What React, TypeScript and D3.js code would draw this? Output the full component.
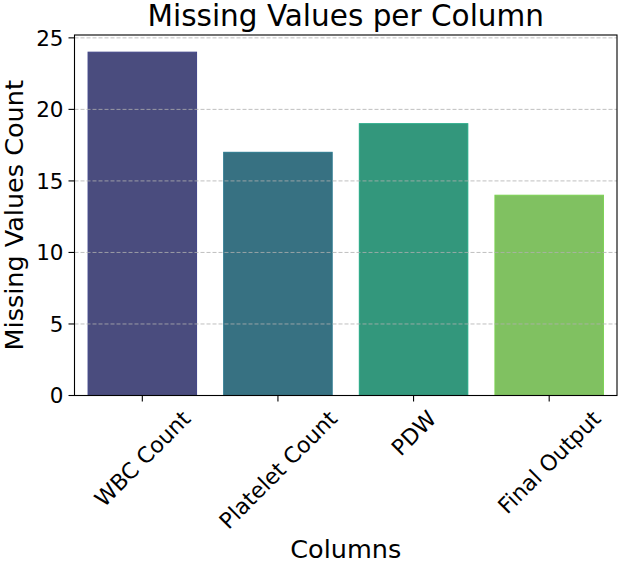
import React from "react";
import * as d3 from "d3";

const categories = ["WBC Count", "Platelet Count", "PDW", "Final Output"];
const values = [24, 17, 19, 14];
const baseColors = ["#414487", "#2a788e", "#22a884", "#7ad151"];
const yTicks = [0, 5, 10, 15, 20, 25];

const W = 624;
const H = 564;
const M = { left: 74.5, right: 617, top: 35, bottom: 395.5 };
const FONT = "DejaVu Sans, sans-serif";
const TICK_FS = 21.5;
const XTICK_FS = 22;
const LABEL_FS = 25.5;
const TITLE_FS = 29.5;

function desat(c: string, p: number) {
  const h = d3.hsl(c);
  h.s = h.s * p;
  return h.formatHex();
}

let ctx: CanvasRenderingContext2D | null = null;
function measure(text: string, fs: number) {
  if (typeof document === "undefined") return text.length * fs * 0.6;
  if (!ctx) ctx = document.createElement("canvas").getContext("2d");
  if (!ctx) return text.length * fs * 0.6;
  ctx.font = `${fs}px "DejaVu Sans"`;
  return ctx.measureText(text).width;
}

export default function App() {
  const x = d3
    .scaleBand<string>()
    .domain(categories)
    .range([M.left, M.right])
    .paddingInner(0.2)
    .paddingOuter(0.1);
  const xc = d3.scalePoint<string>().domain(categories).range([M.left, M.right]).padding(0.5);
  const y = d3.scaleLinear().domain([0, 25.2]).range([M.bottom, M.top]);

  const tickLen = 6;
  const labelTop = M.bottom + tickLen + 4;
  const lineH = XTICK_FS * 1.164;

  return (
    <svg width={W} height={H} style={{ position: "absolute", left: 0, top: 0, background: "#fff" }} fontFamily={FONT}>
      <rect x={0} y={0} width={W} height={H} fill="#fff" />
      {categories.map((c, i) => (
        <rect
          key={c}
          x={x(c)!}
          y={y(values[i])}
          width={x.bandwidth()}
          height={y(0) - y(values[i])}
          fill={desat(baseColors[i], 0.75)}
          stroke={baseColors[i]}
          strokeWidth={1}
        />
      ))}
      {yTicks.map((t) => (
        <line
          key={"g" + t}
          x1={M.left}
          x2={M.right}
          y1={y(t)}
          y2={y(t)}
          stroke="#b0b0b0"
          strokeOpacity={0.8}
          strokeWidth={1}
          strokeDasharray="4,2"
        />
      ))}
      <rect x={M.left} y={M.top} width={M.right - M.left} height={M.bottom - M.top} fill="none" stroke="#000" strokeWidth={1.1} />
      {yTicks.map((t) => (
        <g key={"yt" + t}>
          <line x1={M.left - tickLen} x2={M.left} y1={y(t)} y2={y(t)} stroke="#000" strokeWidth={1.1} />
          <text x={M.left - tickLen - 5} y={y(t)} dy="0.36em" textAnchor="end" fontSize={TICK_FS} fill="#000">
            {t}
          </text>
        </g>
      ))}
      {categories.map((c) => {
        const cx = xc(c)!;
        const w = measure(c, XTICK_FS);
        const half = (w + lineH) / (2 * Math.SQRT2);
        const cy = labelTop + half;
        return (
          <g key={"xt" + c}>
            <line x1={cx} x2={cx} y1={M.bottom} y2={M.bottom + tickLen} stroke="#000" strokeWidth={1.1} />
            <text
              transform={`translate(${cx},${cy}) rotate(-45)`}
              textAnchor="middle"
              dy="0.36em"
              fontSize={XTICK_FS}
              fill="#000"
            >
              {c}
            </text>
          </g>
        );
      })}
      <text x={(M.left + M.right) / 2} y={26} textAnchor="middle" fontSize={TITLE_FS} fill="#000">
        Missing Values per Column
      </text>
      <text x={(M.left + M.right) / 2} y={558} textAnchor="middle" fontSize={LABEL_FS} fill="#000">
        Columns
      </text>
      <text
        transform={`translate(22.5,${(M.top + M.bottom) / 2}) rotate(-90)`}
        textAnchor="middle"
        fontSize={LABEL_FS}
        fill="#000"
      >
        Missing Values Count
      </text>
    </svg>
  );
}
